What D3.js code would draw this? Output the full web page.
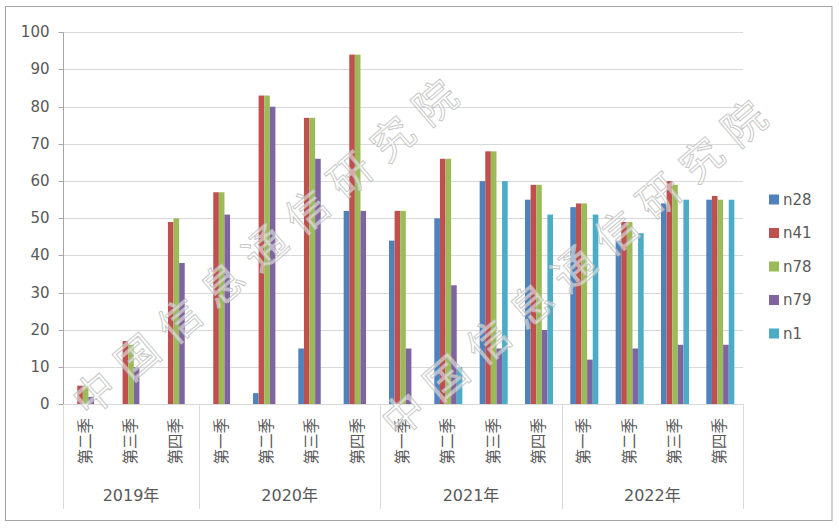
<!DOCTYPE html>
<html>
<head>
<meta charset="utf-8">
<script src="https://cdn.jsdelivr.net/npm/d3@7"></script>
<style>
  html, body { margin: 0; padding: 0; background: #fff; }
  svg { display: block; }
</style>
</head>
<body>
<svg id="chart" width="839" height="529"></svg>
<script>
const years = ["2019年", "2020年", "2021年", "2022年"];
const quarters = [
  ["第二季", "第三季", "第四季"],
  ["第一季", "第二季", "第三季", "第四季"],
  ["第一季", "第二季", "第三季", "第四季"],
  ["第一季", "第二季", "第三季", "第四季"]
];
const seriesNames = ["n28", "n41", "n78", "n79", "n1"];
const seriesColors = ["#4F81BD", "#C0504D", "#9BBB59", "#8064A2", "#4BACC6"];
const n28 = [0, 0, 0, 0, 3, 15, 52, 44, 50, 60, 55, 53, 44, 54, 55];
const n41 = [5, 17, 49, 57, 83, 77, 94, 52, 66, 68, 59, 54, 49, 60, 56];
const n78 = [5, 16, 50, 57, 83, 77, 94, 52, 66, 68, 59, 54, 49, 59, 55];
const n79 = [2, 10, 38, 51, 80, 66, 52, 15, 32, 15, 20, 12, 15, 16, 16];
const n1  = [0, 0, 0, 0, 0, 0, 0, 0, 10, 60, 51, 51, 46, 55, 55];
const yTicks = [0, 10, 20, 30, 40, 50, 60, 70, 80, 90, 100];
const watermark = "中国信息通信研究院";

(function () {
const seriesValues = [n28, n41, n78, n79, n1];
const cats = [];
quarters.forEach((qs, yi) => qs.forEach((q, qi) => cats.push({ id: yi + "-" + qi, year: yi, label: q })));

const svg = d3.select("#chart");
const pLeft = 63, pRight = 743, pTop = 32.3, pBottom = 404.3;
const textColor = "#595959";
const numFont = "'DejaVu Sans', 'Noto Sans CJK SC', sans-serif";
const cjkFont = "'Noto Sans CJK SC', 'DejaVu Sans', sans-serif";

// outer border
svg.append("rect").attr("x", 5.5).attr("y", 6.5).attr("width", 826.5).attr("height", 514)
  .attr("fill", "#fff").attr("stroke", "#a6a6a6").attr("stroke-width", 1);

const x = d3.scaleBand().domain(cats.map(c => c.id)).range([pLeft, pRight]).paddingInner(0.382).paddingOuter(0.191);
const xs = d3.scaleBand().domain(seriesNames).range([0, x.bandwidth()]);
const y = d3.scaleLinear().domain([0, 100]).range([pBottom, pTop]);

// gridlines
svg.append("g").selectAll("line").data(yTicks.filter(t => t > 0)).join("line")
  .attr("x1", pLeft).attr("x2", pRight)
  .attr("y1", d => Math.round(y(d)) + 0.5).attr("y2", d => Math.round(y(d)) + 0.5)
  .attr("stroke", "#d9d9d9").attr("stroke-width", 1);

// bars
const gBars = svg.append("g");
seriesNames.forEach((s, si) => {
  gBars.append("g").selectAll("rect").data(cats.map((c, i) => ({ c, v: seriesValues[si][i] })).filter(d => d.v > 0))
    .join("rect")
    .attr("x", d => x(d.c.id) + xs(s))
    .attr("width", xs.bandwidth())
    .attr("y", d => y(d.v))
    .attr("height", d => y(0) - y(d.v))
    .attr("fill", seriesColors[si]);
});

// y axis
const yAxis = d3.axisLeft(y).tickValues(yTicks).tickSize(5).tickPadding(9);
const gy = svg.append("g").attr("transform", `translate(${pLeft + 0.5},0)`).call(yAxis);
gy.select(".domain").attr("stroke", "#a6a6a6").attr("d", `M0,${Math.round(pBottom)+0.5}V${Math.round(pTop)+0.5}`);
gy.selectAll(".tick line").attr("stroke", "#a6a6a6");
gy.selectAll(".tick").attr("transform", d => `translate(0,${Math.round(y(d)) + 0.5})`);
gy.selectAll("text").attr("fill", textColor).style("font-family", numFont).style("font-size", "15px");

// x axis baseline
svg.append("line").attr("x1", pLeft).attr("x2", pRight)
  .attr("y1", Math.round(pBottom) + 0.5).attr("y2", Math.round(pBottom) + 0.5)
  .attr("stroke", "#d9d9d9");

// group separators
const step = x.step();
let idx = 0;
const boundaries = [pLeft];
quarters.forEach(qs => { idx += qs.length; boundaries.push(pLeft + idx * step); });
svg.append("g").selectAll("line").data(boundaries).join("line")
  .attr("x1", d => Math.round(d) + 0.5).attr("x2", d => Math.round(d) + 0.5)
  .attr("y1", Math.round(pBottom)).attr("y2", 509)
  .attr("stroke", "#d9d9d9");

// quarter labels (rotated)
svg.append("g").selectAll("text").data(cats).join("text")
  .attr("transform", d => `translate(${x(d.id) + x.bandwidth() / 2 + 5},418) rotate(-90)`)
  .attr("text-anchor", "end")
  .attr("fill", textColor)
  .style("font-family", cjkFont).style("font-size", "15.5px")
  .text(d => d.label);

// year labels
svg.append("g").selectAll("text").data(years).join("text")
  .attr("x", (d, i) => (boundaries[i] + boundaries[i + 1]) / 2)
  .attr("y", 501)
  .attr("text-anchor", "middle")
  .attr("fill", textColor)
  .style("font-family", numFont).style("font-size", "16px")
  .text(d => d);

// watermarks
[[268, 241], [577, 262]].forEach(([cx, cy]) => {
  svg.append("text")
    .attr("transform", `translate(${cx},${cy}) rotate(-40.5)`)
    .attr("text-anchor", "middle")
    .attr("dominant-baseline", "central")
    .attr("fill", "#ffffff").attr("fill-opacity", 0.5)
    .attr("stroke", "#bdbdbd").attr("stroke-opacity", 0.85).attr("stroke-width", 1)
    .style("font-family", cjkFont).style("font-size", "42px").style("font-weight", 400)
    .style("letter-spacing", "14px")
    .text(watermark);
});

// legend
const legend = svg.append("g");
seriesNames.forEach((s, i) => {
  const ly = 199.5 + i * 33.5;
  legend.append("rect").attr("x", 769).attr("y", ly - 5).attr("width", 10).attr("height", 10).attr("fill", seriesColors[i]);
  legend.append("text").attr("x", 783).attr("y", ly).attr("dominant-baseline", "central")
    .attr("fill", textColor).style("font-family", numFont).style("font-size", "15px").text(s);
});
})();
</script>
</body>
</html>
